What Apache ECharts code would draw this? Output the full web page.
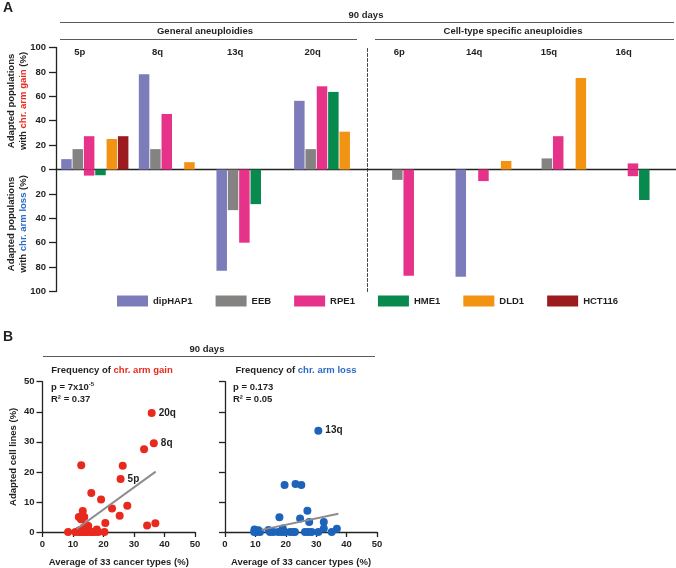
<!DOCTYPE html>
<html><head><meta charset="utf-8">
<script src="https://cdn.jsdelivr.net/npm/echarts@6/dist/echarts.min.js"></script>
<style>html,body{margin:0;padding:0;background:#fff}#c{width:676px;height:568px}</style>
</head><body><div id="c"></div>
<script>
// ---------- Panel A data ----------
const cellLines = ['dipHAP1', 'EEB', 'RPE1', 'HME1', 'DLD1', 'HCT116'];
const generalArms = ['5p', '8q', '13q', '20q'];
const specificArms = ['6p', '14q', '15q', '16q'];
// gain (%) per arm, order: 5p 8q 13q 20q | 6p 14q 15q 16q
const gainDipHAP1 = [8.5, 78, null, 56.3, null, null, null, null];
const gainEEB     = [16.7, 16.7, null, 16.7, null, null, 9.1, null];
const gainRPE1    = [27.3, 45.5, null, 68.2, null, null, 27.3, 5];
const gainHME1    = [null, null, null, 63.6, null, null, null, null];
const gainDLD1    = [25, 6, null, 31, null, 7, 75, null];
const gainHCT116  = [27.3, null, null, null, null, null, null, null];
// loss (%) per arm, drawn downward (negative)
const lossDipHAP1 = [null, null, -83, null, null, -88, null, null];
const lossEEB     = [null, null, -33.3, null, -8.5, null, null, null];
const lossRPE1    = [-5, null, -60, null, -87, -9.5, null, -5.5];
const lossHME1    = [-4.7, null, -28.4, null, null, null, null, -25];
const lossDLD1    = [null, null, null, null, null, null, null, null];
const lossHCT116  = [null, null, null, null, null, null, null, null];
const yTicksA = [-100, 100, 20];

// ---------- Panel B data ----------
// [average of 33 cancer types (%), adapted cell lines (%), label]
const gainPoints = [
  [35.8, 39.6, '20q'], [36.5, 29.5, '8q'], [33.3, 27.5, ''], [12.7, 22.2, ''], [26.3, 22.0, ''],
  [25.6, 17.6, '5p'], [16.0, 13.0, ''], [19.2, 10.8, ''], [27.8, 8.7, ''], [22.8, 7.8, ''],
  [13.2, 7.0, ''], [11.9, 5.0, ''], [13.7, 5.0, ''], [12.6, 4.2, ''], [25.3, 5.4, ''],
  [20.6, 3.0, ''], [37.0, 2.9, ''], [34.3, 2.2, ''], [14.3, 2.3, ''], [15.0, 2.0, ''],
  [13.5, 1.5, ''], [14.8, 1.0, ''], [17.8, 0.8, ''], [8.4, 0, ''], [10.8, 0, ''],
  [11.8, 0, ''], [12.5, 0, ''], [13.2, 0, ''], [14.0, 0, ''], [14.8, 0, ''],
  [15.8, 0, ''], [17.2, 0, ''], [18.3, 0, ''], [20.3, 0, ''], [16.5, 0, ''], [12.0, 0.5, '']
];
const lossPoints = [
  [30.7, 33.7, '13q'], [19.6, 15.6, ''], [23.2, 16.0, ''], [25.1, 15.6, ''], [27.1, 7.1, ''],
  [17.9, 4.9, ''], [24.7, 4.5, ''], [27.7, 3.3, ''], [32.5, 3.3, ''], [32.5, 1.2, ''],
  [36.8, 1.1, ''], [19.0, 1.2, ''], [14.3, 0.7, ''], [9.7, 0.8, ''], [11.0, 0.6, ''],
  [9.6, 0, ''], [10.4, 0, ''], [11.5, 0, ''], [14.8, 0, ''], [15.9, 0, ''], [17.5, 0, ''],
  [18.6, 0, ''], [19.7, 0, ''], [21.4, 0, ''], [22.5, 0, ''], [23.0, 0, ''], [26.3, 0, ''],
  [27.4, 0, ''], [28.5, 0, ''], [30.7, 0, ''], [35.1, 0, '']
];
const gainFitLine = [[11.2, 1.0], [37.1, 20.1]];
const lossFitLine = [[12.0, 0.7], [37.3, 6.1]];
const xTicksB = [0, 50, 10];
const yTicksB = [0, 50, 10];

// ---------- styling ----------
const colors = ['#7d7cba', '#858282', '#e7328a', '#08894d', '#f29313', '#9b1b1e'];
const FONT = '"Liberation Sans", Arial, sans-serif';
const TXT = '#231f20';
const RED = '#e8291d', BLUE = '#2a6cc4';
const gainArrays = [gainDipHAP1, gainEEB, gainRPE1, gainHME1, gainDLD1, gainHCT116];
const lossArrays = [lossDipHAP1, lossEEB, lossRPE1, lossHME1, lossDLD1, lossHCT116];

const series = [];
[0, 1].forEach(function (s) {
  cellLines.forEach(function (name, i) {
    const part = a => (s === 0 ? a.slice(0, 4) : a.slice(4, 8)).map(v => v === null ? '-' : v);
    const common = {
      type: 'bar', name: name, xAxisIndex: s, yAxisIndex: s, stack: 'g' + s + 'c' + i,
      barWidth: 10.5, barGap: '8%', itemStyle: { color: colors[i] }, silent: true
    };
    series.push(Object.assign({}, common, { data: part(gainArrays[i]) }));
    series.push(Object.assign({}, common, { data: part(lossArrays[i]) }));
  });
});

const pointLabel = {
  show: true, position: 'right', distance: 3,
  formatter: p => p.data[2] || '',
  color: TXT, fontFamily: FONT, fontWeight: 'bold', fontSize: 10
};
series.push({ type: 'scatter', xAxisIndex: 3, yAxisIndex: 3, data: gainPoints, symbolSize: 8,
  itemStyle: { color: RED, opacity: 1 }, label: pointLabel, z: 3 });
series.push({ type: 'line', xAxisIndex: 3, yAxisIndex: 3, data: gainFitLine, symbol: 'none',
  lineStyle: { color: '#8c8c8c', width: 2 }, z: 4 });
series.push({ type: 'scatter', xAxisIndex: 4, yAxisIndex: 4, data: lossPoints, symbolSize: 8,
  itemStyle: { color: '#1c63b9', opacity: 1 }, label: pointLabel, z: 3 });
series.push({ type: 'line', xAxisIndex: 4, yAxisIndex: 4, data: lossFitLine, symbol: 'none',
  lineStyle: { color: '#8c8c8c', width: 2 }, z: 4 });

const lbl = { color: TXT, fontFamily: FONT, fontWeight: 'bold', fontSize: 9.5 };
const axisLineDark = { show: true, onZero: true, lineStyle: { color: '#222', width: 1.3 } };

function catAxis(grid, data) {
  return { type: 'category', gridIndex: grid, data: data, position: 'top',
    axisLine: { show: false, onZero: false }, axisTick: { show: false },
    axisLabel: Object.assign({}, lbl, { margin: -5, verticalAlign: 'middle', padding: [0, 30, 0, 0] }) };
}
function valAxisB(grid, showLabel, name) {
  return { type: 'value', gridIndex: grid, min: xTicksB[0], max: xTicksB[1], interval: xTicksB[2],
    axisLine: axisLineDark, axisTick: { show: true, length: 5, lineStyle: { color: '#222', width: 1.3 } },
    axisLabel: Object.assign({}, lbl, { show: showLabel, margin: 7 }), splitLine: { show: false },
    name: name, nameLocation: 'middle', nameGap: 25, nameTextStyle: lbl };
}

const option = {
  animation: false,
  backgroundColor: '#fff',
  textStyle: { fontFamily: FONT },
  legend: {
    data: cellLines, left: 117, top: 295.5, padding: 0, itemWidth: 31, itemHeight: 11,
    itemGap: 23, icon: 'rect', textStyle: lbl, selectedMode: false
  },
  grid: [
    { left: 56, top: 47.5, width: 310.5, height: 244 },
    { left: 377, top: 47.5, width: 299, height: 244 },
    { left: 56, top: 47.5, width: 620, height: 244 },
    { left: 42.5, top: 381.7, width: 152.5, height: 150.3 },
    { left: 225, top: 381.7, width: 152, height: 150.3 }
  ],
  xAxis: [
    catAxis(0, generalArms),
    catAxis(1, specificArms),
    { type: 'category', gridIndex: 2, data: [''], axisLine: axisLineDark,
      axisTick: { show: false }, axisLabel: { show: false } },
    valAxisB(3, true, 'Average of 33 cancer types (%)'),
    valAxisB(4, true, 'Average of 33 cancer types (%)')
  ],
  yAxis: [
    { type: 'value', gridIndex: 0, min: yTicksA[0], max: yTicksA[1], interval: yTicksA[2],
      axisLine: { show: true, lineStyle: { color: '#222', width: 1.3 } },
      axisTick: { show: true, length: 7, lineStyle: { color: '#222', width: 1.3 } },
      axisLabel: Object.assign({}, lbl, { margin: 10, formatter: v => String(Math.abs(v)) }),
      splitLine: { show: false } },
    { type: 'value', gridIndex: 1, min: yTicksA[0], max: yTicksA[1], offset: 10,
      axisLine: { show: true, lineStyle: { color: '#444', width: 1, type: [3, 2] } },
      axisTick: { show: false }, axisLabel: { show: false }, splitLine: { show: false } },
    { type: 'value', gridIndex: 2, min: yTicksA[0], max: yTicksA[1], show: false },
    { type: 'value', gridIndex: 3, min: yTicksB[0], max: yTicksB[1], interval: yTicksB[2],
      axisLine: axisLineDark, axisTick: { show: true, length: 6, lineStyle: { color: '#222', width: 1.3 } },
      axisLabel: Object.assign({}, lbl, { margin: 8 }), splitLine: { show: false },
      name: 'Adapted cell lines (%)', nameLocation: 'middle', nameGap: 24, nameTextStyle: lbl },
    { type: 'value', gridIndex: 4, min: yTicksB[0], max: yTicksB[1], interval: yTicksB[2],
      axisLine: axisLineDark, axisTick: { show: true, length: 6, lineStyle: { color: '#222', width: 1.3 } },
      axisLabel: { show: false }, splitLine: { show: false } }
  ],
  graphic: [],
  series: series
};

function text(x, y, t, opts) {
  return Object.assign({ type: 'text', x: x, y: y, silent: true,
    style: Object.assign({ text: t, fill: TXT, font: 'bold 9.5px ' + FONT, align: 'center', verticalAlign: 'middle' }, opts || {}) });
}
function hline(x1, x2, y) {
  return { type: 'line', silent: true, shape: { x1: x1, y1: y, x2: x2, y2: y }, style: { stroke: '#5a5a5a', lineWidth: 1 } };
}
option.graphic = [
  text(3, 8, 'A', { font: 'bold 14px ' + FONT, align: 'left' }),
  text(366, 15, '90 days'),
  hline(60, 674, 22.5),
  text(205, 31, 'General aneuploidies'),
  hline(60, 357, 39.5),
  text(513, 31, 'Cell-type specific aneuploidies'),
  hline(375, 674, 39.5),
  { type: 'text', x: 17, y: 101, rotation: Math.PI / 2, silent: true,
    style: { text: '{a|Adapted populations}\n{a|with }{r|chr. arm gain}{a| (%)}', align: 'center', verticalAlign: 'middle',
      lineHeight: 12, rich: { a: { fill: TXT, font: 'bold 9.5px ' + FONT, lineHeight: 12 }, r: { fill: RED, font: 'bold 9.5px ' + FONT, lineHeight: 12 } } } },
  { type: 'text', x: 17, y: 224, rotation: Math.PI / 2, silent: true,
    style: { text: '{a|Adapted populations}\n{a|with }{b|chr. arm loss}{a| (%)}', align: 'center', verticalAlign: 'middle',
      lineHeight: 12, rich: { a: { fill: TXT, font: 'bold 9.5px ' + FONT, lineHeight: 12 }, b: { fill: BLUE, font: 'bold 9.5px ' + FONT, lineHeight: 12 } } } },
  text(3, 337, 'B', { font: 'bold 14px ' + FONT, align: 'left' }),
  text(207, 349, '90 days'),
  hline(43, 375, 356.5),
  { type: 'text', x: 112, y: 370, silent: true,
    style: { text: '{a|Frequency of }{r|chr. arm gain}', align: 'center', verticalAlign: 'middle',
      rich: { a: { fill: TXT, font: 'bold 9.5px ' + FONT }, r: { fill: RED, font: 'bold 9.5px ' + FONT } } } },
  { type: 'text', x: 296, y: 370, silent: true,
    style: { text: '{a|Frequency of }{b|chr. arm loss}', align: 'center', verticalAlign: 'middle',
      rich: { a: { fill: TXT, font: 'bold 9.5px ' + FONT }, b: { fill: BLUE, font: 'bold 9.5px ' + FONT } } } },
  { type: 'text', x: 51, y: 387, silent: true,
    style: { text: '{a|p = 7x10}{s|-5}', align: 'left', verticalAlign: 'middle',
      rich: { a: { fill: TXT, font: 'bold 9.5px ' + FONT, lineHeight: 12 }, s: { fill: TXT, font: 'bold 6px ' + FONT, verticalAlign: 'top', lineHeight: 12 } } } },
  text(51, 399, 'R\u00B2 = 0.37', { align: 'left' }),
  text(233, 387, 'p = 0.173', { align: 'left' }),
  text(233, 399, 'R\u00B2 = 0.05', { align: 'left' })
];

const chart = echarts.init(document.getElementById('c'), null, { renderer: 'canvas' });
chart.setOption(option);
</script>
</body></html>
